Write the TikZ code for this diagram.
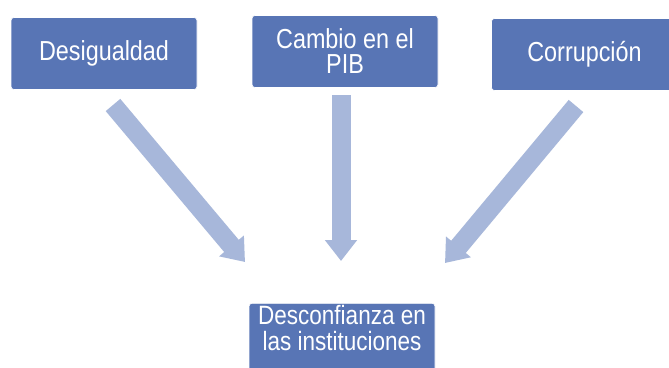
\documentclass[tikz,border=0pt]{standalone}
\usepackage{fontspec}
\usetikzlibrary{arrows.meta}
\newfontfamily\boxfont[FakeStretch=0.85]{Liberation Sans}
\definecolor{boxblue}{HTML}{5875B5}
\definecolor{arrowblue}{HTML}{A7B7DA}

\begin{document}
\begin{tikzpicture}
     [x=1pt, y=-1pt,
     causebox/.style={rectangle, rounded corners=3pt, draw=white, line width=0.6pt, fill=boxblue, text=white, align=center, minimum width=186pt, minimum height=72pt, font=\boxfont\fontsize{27.5}{25}\selectfont},
     bigarrow/.style={draw=arrowblue, line width=19pt, -{Triangle[width=31pt,length=21pt]}},
     ]
 \clip (0,0) rectangle (669,367);
 \fill[white] (0,0) rectangle (669,367);
 \node at (104,53.5) [causebox] (des) {Desigualdad};
 \node at (345,51.5) [causebox] (cam) {Cambio en el\\PIB};
 \node at (584.5,54.5) [causebox] (cor) {Corrupción};
 % box runs past the bottom edge
 \node at (342,303) [causebox, anchor=north, minimum height=0pt, text height=44pt, text depth=40pt, font=\boxfont\fontsize{26.5}{26}\selectfont] (desc) {Desconfianza en\\las instituciones};
 \coordinate (t1) at (113,105);
 \coordinate (h1) at (245,262);
 \coordinate (t2) at (341,95);
 \coordinate (h2) at (341,261);
 \coordinate (t3) at (576,106);
 \coordinate (h3) at (445,263);
 \draw[bigarrow] (t1) -- (h1);
 \draw[bigarrow] (t2) -- (h2);
 \draw[bigarrow] (t3) -- (h3);
 \end{tikzpicture}
\end{document}
